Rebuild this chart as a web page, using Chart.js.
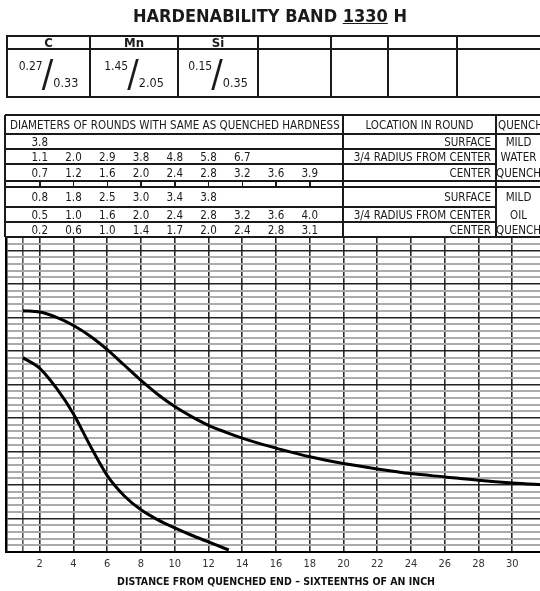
<!DOCTYPE html>
<html>
<head>
<meta charset="utf-8">
<script src="https://cdn.jsdelivr.net/npm/chart.js@4/dist/chart.umd.min.js"></script>
<style>
  html, body { margin: 0; padding: 0; background: #fff; }
  #page {
    position: relative; width: 540px; height: 591px; overflow: hidden;
    font-family: "DejaVu Sans Condensed", "DejaVu Sans", sans-serif; color: #1a1a1a;
  }
  #chartBox { position: absolute; left: 0; top: 0; width: 560px; height: 591px; }
  .abs { position: absolute; box-sizing: border-box; white-space: nowrap; }
  .line { background: #1a1a1a; }
  .cell { display: flex; align-items: center; justify-content: center; font-size: 11.5px; }
  .right { justify-content: flex-end; padding-right: 5px; }
  .left { justify-content: flex-start; padding-left: 5px; }
  #title { left: 0; width: 540px; top: 5px; text-align: center; font-weight: bold; font-size: 18px; }
  .el { font-weight: bold; font-size: 13px; }
  .frac { font-size: 12px; }
  .frac .slash { font-size: 38px; font-weight: 200; line-height: 1; margin: 0 0 0 -1px; }
  .frac .hi { align-self: flex-start; margin-top: 10px; font-size: 12px; }
  .frac .lo { align-self: flex-end; margin-bottom: 7px; font-size: 12.5px; }
  .num { font-size: 11.5px; transform: translateX(-50%); }
</style>
</head>
<body>
<div id="page">
  <div id="chartBox"><canvas id="chart"></canvas></div>
  <div id="title" class="abs">HARDENABILITY BAND <u>1330</u> H</div>
</div>
<script>
// Jominy distance (sixteenths of an inch) and hardness (HRC)
const maxDistance = [1, 2, 3, 4, 5, 6, 7, 8, 9, 10, 11, 12, 13, 14, 15, 16, 18, 20, 22, 24, 26, 28, 30, 32];
const maxHardness = [56, 55.8, 55, 53.8, 52.2, 50.2, 47.9, 45.6, 43.5, 41.7, 40.2, 38.9, 37.9, 37, 36.2, 35.5, 34.2, 33.2, 32.4, 31.7, 31.2, 30.7, 30.3, 30];
const minDistance = [1, 2, 3, 4, 5, 6, 7, 8, 9, 10, 11, 12, 13.2];
const minHardness = [49, 47.4, 44.4, 40.6, 35.8, 31.4, 28.4, 26.3, 24.8, 23.6, 22.5, 21.5, 20.3];

// composition table
const elements = ['C', 'Mn', 'Si', '', '', '', ''];
const elementLow = ['0.27', '1.45', '0.15'];
const elementHigh = ['0.33', '2.05', '0.35'];

// diameters of rounds with same hardness, one entry per column at J = 2, 4, 6 ...
const waterSurface = ['3.8'];
const waterThreeQuarter = ['1.1', '2.0', '2.9', '3.8', '4.8', '5.8', '6.7'];
const waterCenter = ['0.7', '1.2', '1.6', '2.0', '2.4', '2.8', '3.2', '3.6', '3.9'];
const oilSurface = ['0.8', '1.8', '2.5', '3.0', '3.4', '3.8'];
const oilThreeQuarter = ['0.5', '1.0', '1.6', '2.0', '2.4', '2.8', '3.2', '3.6', '4.0'];
const oilCenter = ['0.2', '0.6', '1.0', '1.4', '1.7', '2.0', '2.4', '2.8', '3.1'];
const locations = ['SURFACE', '3/4 RADIUS FROM CENTER', 'CENTER'];
const waterQuench = ['MILD', 'WATER', 'QUENCH'];
const oilQuench = ['MILD', 'OIL', 'QUENCH'];

const FONT = '"DejaVu Sans Condensed", "DejaVu Sans", sans-serif';
const page = document.getElementById('page');

function toPoints(xs, ys) {
  return xs.map((x, i) => ({ x, y: ys[i] }));
}

const chart = new Chart(document.getElementById('chart'), {
  type: 'line',
  data: {
    datasets: [
      { label: 'Max', data: toPoints(maxDistance, maxHardness) },
      { label: 'Min', data: toPoints(minDistance, minHardness) },
    ],
  },
  options: {
    responsive: true,
    maintainAspectRatio: false,
    animation: false,
    layout: { padding: { top: 237, right: 14, left: 0, bottom: 0 } },
    elements: {
      line: { borderColor: '#000', borderWidth: 3, cubicInterpolationMode: 'monotone', fill: false },
      point: { radius: 0 },
    },
    plugins: { legend: { display: false }, tooltip: { enabled: false } },
    scales: {
      x: {
        type: 'linear',
        min: 0,
        max: 32,
        ticks: {
          stepSize: 1,
          autoSkip: false,
          maxRotation: 0,
          padding: 6,
          color: '#333',
          font: { family: FONT, size: 11 },
          callback: v => (v > 0 && v % 2 === 0 ? v : ''),
        },
        grid: {
          drawTicks: false,
          lineWidth: 1.6,
          color: ctx => {
            const v = ctx.tick && ctx.tick.value;
            if (v === 1) return '#555';
            if (v > 0 && v % 2 === 0) return '#2a2a2a';
            return 'rgba(0,0,0,0)';
          },
        },
        border: { color: '#000', width: 2 },
        title: {
          display: true,
          text: 'DISTANCE FROM QUENCHED END – SIXTEENTHS OF AN INCH',
          color: '#111',
          font: { family: FONT, size: 10.5, weight: 'bold' },
          padding: { top: 0, bottom: 2 },
        },
        afterFit: s => { s.height = 39; },
      },
      y: {
        min: 20,
        max: 67,
        z: -1,
        ticks: { stepSize: 1, display: false },
        grid: {
          drawTicks: false,
          color: ctx => (ctx.tick.value % 5 === 0 ? '#222' : '#ababab'),
          lineWidth: ctx => (ctx.tick.value % 5 === 0 ? 1.5 : 2),
        },
        border: { color: '#000', width: 2.5 },
        afterFit: s => { s.width = 5; },
      },
    },
  },
});

function put(x, y, w, h, html, cls) {
  const d = document.createElement('div');
  d.className = 'abs ' + (cls || '');
  d.style.left = x + 'px';
  d.style.top = y + 'px';
  if (w != null) d.style.width = w + 'px';
  if (h != null) d.style.height = h + 'px';
  d.innerHTML = html;
  page.appendChild(d);
  return d;
}
function hline(x1, x2, y, t) { put(x1, y - t / 2, x2 - x1, t, '', 'line'); }
function vline(x, y1, y2, t) { put(x - t / 2, y1, t, y2 - y1, '', 'line'); }

// composition table
const compX = [7, 90, 178, 258, 331, 388, 457, 560];
const compY = [36, 49, 97];
put(7, 36, 553, 61, '').style.background = '#fff';
elements.forEach((el, i) => {
  put(compX[i], compY[0], compX[i + 1] - compX[i], compY[1] - compY[0], el, 'cell el');
  if (i < elementLow.length) {
    put(compX[i], compY[1], compX[i + 1] - compX[i], compY[2] - compY[1],
      '<span class="hi">' + elementLow[i] + '</span><span class="slash">/</span><span class="lo">' + elementHigh[i] + '</span>',
      'cell frac');
  }
});
compY.forEach(y => hline(6, 560, y, 2));
compX.forEach(x => vline(x, 35, 98, 2));

// diameter table
const L = 5, midX = 343, qX = 496, qR = 541, R = 560;
const rowY = [115, 134, 149, 164, 181, 187, 207, 222, 237];
put(L, 115, R - L, 122, '').style.background = '#fff';
put(L, rowY[0], midX - L, rowY[1] - rowY[0], 'DIAMETERS OF ROUNDS WITH SAME AS QUENCHED HARDNESS', 'cell left');
put(midX, rowY[0], qX - midX, rowY[1] - rowY[0], 'LOCATION IN ROUND', 'cell');
put(qX, rowY[0], R - qX, rowY[1] - rowY[0], 'QUENCH', 'cell left').style.paddingLeft = '2px';

const xs = chart.scales.x;
const bands = [
  { rows: [waterSurface, waterThreeQuarter, waterCenter], ys: [rowY[1], rowY[2], rowY[3], rowY[4]], quench: waterQuench },
  { rows: [oilSurface, oilThreeQuarter, oilCenter], ys: [rowY[5], rowY[6], rowY[7], rowY[8]], quench: oilQuench },
];
bands.forEach(b => {
  b.rows.forEach((vals, r) => {
    const y0 = b.ys[r], h = b.ys[r + 1] - y0;
    vals.forEach((v, k) => {
      put(xs.getPixelForValue(2 * (k + 1)), y0, null, h, v, 'cell num');
    });
    put(midX, y0, qX - midX, h, locations[r], 'cell right');
    put(qX, y0, qR - qX, h, b.quench[r], 'cell');
    if (r > 0) hline(L, qX, y0, 1.5);
  });
});

// strip between the two quench groups, with tick marks on the even distances
for (let j = 2; j <= 18; j += 2) vline(xs.getPixelForValue(j), rowY[4], rowY[5], 1.5);
[rowY[0], rowY[1], rowY[4], rowY[5], rowY[8]].forEach(y => hline(L, R, y, 1.8));
vline(L, rowY[0], rowY[8], 2.5);
vline(midX, rowY[0], rowY[8], 1.5);
vline(qX, rowY[0], rowY[8], 1.5);
</script>
</body>
</html>
